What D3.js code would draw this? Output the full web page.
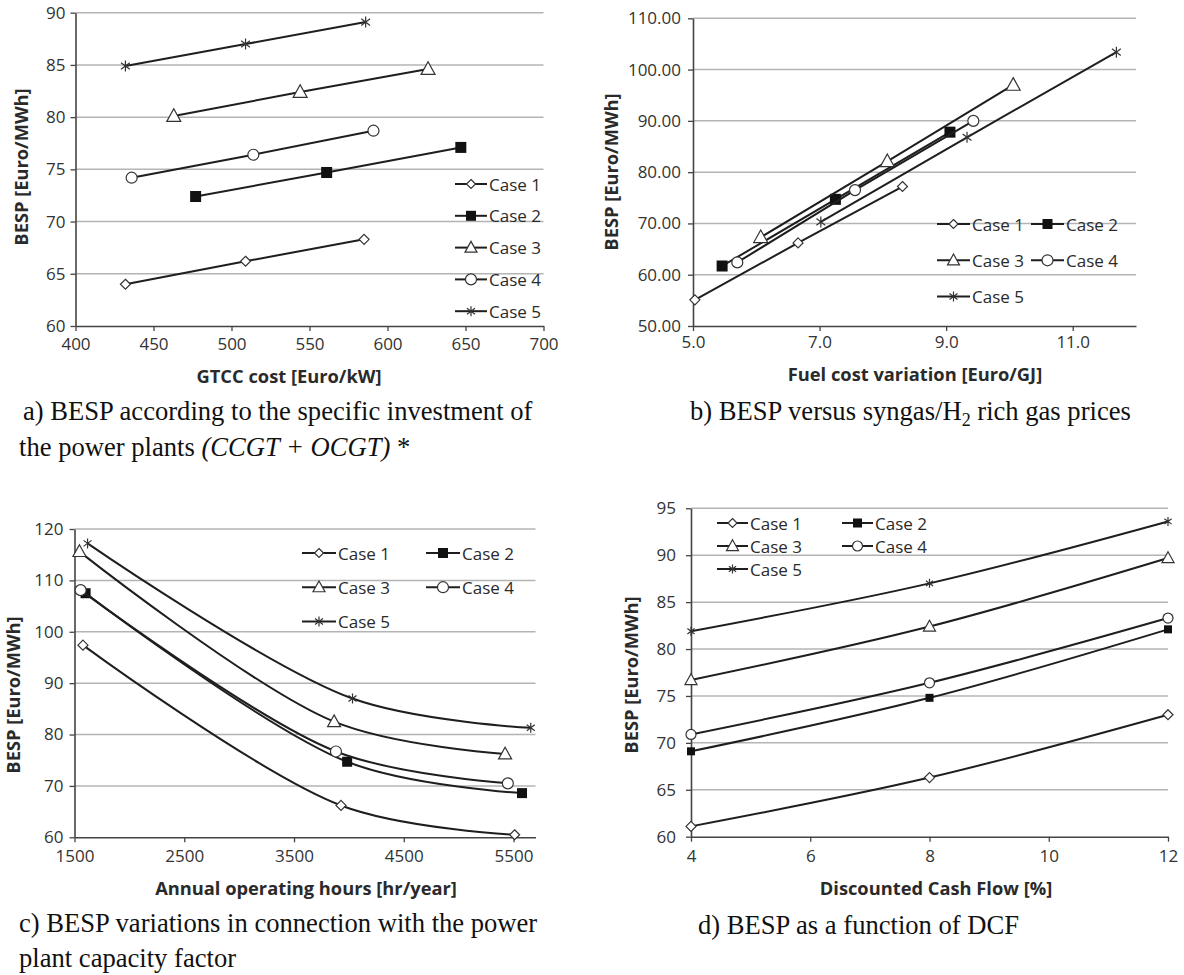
<!DOCTYPE html>
<html>
<head>
<meta charset="utf-8">
<script src="https://cdn.jsdelivr.net/npm/d3@7"></script>
<style>
  body { margin: 0; background: #fff; }
  svg { display: block; }
  .tick text { font-family: "Open Sans", sans-serif; font-size: 17px; fill: #333; }
  .axis-title { font-family: "Open Sans", sans-serif; font-weight: bold; font-size: 18.3px; fill: #2a2a2a; }
  .legend { font-family: "Open Sans", sans-serif; font-size: 17px; fill: #2a2a2a; }
  .caption { font-family: "Liberation Serif", "Times New Roman", serif; font-size: 26.6px; fill: #111; }
</style>
</head>
<body>
<svg id="chart" width="1184" height="975"></svg>
<script>
const caseNames = ["Case 1", "Case 2", "Case 3", "Case 4", "Case 5"]
const markers = ["diamond", "square", "triangle", "circle", "star"]

// a) GTCC cost [Euro/kW] vs BESP
const gtccCost = [[432, 509, 585], [477, 561, 647], [463, 544, 626], [436, 514, 591], [432, 509, 586]]
const gtccBesp = [[64.0, 66.2, 68.3], [72.4, 74.7, 77.1], [80.1, 82.4, 84.6], [74.2, 76.4, 78.7], [84.9, 87.0, 89.1]]

// b) fuel cost [Euro/GJ] vs BESP
const fuelCost = [[5.03, 6.66, 8.31], [5.46, 7.25, 9.06], [6.07, 8.07, 10.06], [5.70, 7.56, 9.43], [7.02, 9.33, 11.69]]
const fuelBesp = [[55.1, 66.2, 77.2], [61.7, 74.7, 87.8], [67.3, 82.1, 97.0], [62.4, 76.5, 90.0], [70.3, 86.8, 103.4]]

// c) annual operating hours vs BESP
const opHours = [[1577, 3928, 5510], [1601, 3984, 5577], [1545, 3865, 5423], [1556, 3882, 5448], [1619, 4033, 5657]]
const opBesp = [[97.4, 66.2, 60.5], [107.5, 74.7, 68.6], [115.6, 82.5, 76.2], [108.1, 76.7, 70.5], [117.2, 87.0, 81.3]]

// d) DCF [%] vs BESP
const dcfRate = [[4, 8, 12], [4, 8, 12], [4, 8, 12], [4, 8, 12], [4, 8, 12]]
const dcfBesp = [[61.1, 66.3, 73.0], [69.1, 74.8, 82.1], [76.7, 82.4, 89.7], [70.9, 76.4, 83.3], [81.9, 87.0, 93.6]]

const aXTicks = [400, 450, 500, 550, 600, 650, 700]
const aYTicks = [60, 65, 70, 75, 80, 85, 90]
const bXTicks = [5, 7, 9, 11]
const bYTicks = [50, 60, 70, 80, 90, 100, 110]
const cXTicks = [1500, 2500, 3500, 4500, 5500]
const cYTicks = [60, 70, 80, 90, 100, 110, 120]
const dXTicks = [4, 6, 8, 10, 12]
const dYTicks = [60, 65, 70, 75, 80, 85, 90, 95]

const svg = d3.select("#chart")
const ink = "#1e1e1e"

// draw one marker shape centred at 0,0
const drawMarker = (g, type, s) => {
    if (type == "diamond") {
        g.append("path").attr("d", `M0,${-s/2}L${s/2},0L0,${s/2}L${-s/2},0Z`)
            .attr("fill", "#fff").attr("stroke", "#333").attr("stroke-width", 1.2)
    } else if (type == "square") {
        g.append("rect").attr("x", -s/2).attr("y", -s/2).attr("width", s).attr("height", s)
            .attr("fill", "#111")
    } else if (type == "triangle") {
        let h = s * 0.9
        g.append("path").attr("d", `M0,${-h*0.58}L${s/2},${h*0.42}L${-s/2},${h*0.42}Z`)
            .attr("fill", "#fff").attr("stroke", "#333").attr("stroke-width", 1.2)
    } else if (type == "circle") {
        g.append("circle").attr("r", s/2)
            .attr("fill", "#fff").attr("stroke", "#333").attr("stroke-width", 1.2)
    } else {
        let r = s/2
        g.append("path").attr("d", `M0,${-r}V${r}M${-r*0.8},${-r*0.6}L${r*0.8},${r*0.6}M${-r*0.8},${r*0.6}L${r*0.8},${-r*0.6}`)
            .attr("stroke", "#333").attr("stroke-width", 1.2).attr("fill", "none")
    }
}

const drawPanel = (p) => {
    let xScale = d3.scaleLinear().domain(p.xDomain).range([p.left, p.right])
    let yScale = d3.scaleLinear().domain(p.yDomain).range([p.bottom, p.top])
    let g = svg.append("g")

    // gridlines
    g.selectAll(".grid").data(p.yTicks.slice(1)).enter().append("line")
        .attr("x1", p.left).attr("x2", p.right)
        .attr("y1", d => yScale(d)).attr("y2", d => yScale(d))
        .attr("stroke", "#b4b4b4").attr("stroke-width", 1.5)

    let xAxis = d3.axisBottom(xScale).tickValues(p.xTicks).tickFormat(p.xFormat)
        .tickSizeInner(5).tickSizeOuter(0).tickPadding(p.xPad)
    let yAxis = d3.axisLeft(yScale).tickValues(p.yTicks).tickFormat(p.yFormat)
        .tickSizeInner(5).tickSizeOuter(0).tickPadding(p.yPad)

    let gx = g.append("g").attr("transform", "translate(0," + p.bottom + ")").call(xAxis)
    let gy = g.append("g").attr("transform", "translate(" + p.left + ",0)").call(yAxis)
    gx.select(".domain").attr("stroke", "#444").attr("stroke-width", 1.6)
    gy.select(".domain").attr("stroke", "#444").attr("stroke-width", 1.6)
    gx.selectAll(".tick line").attr("stroke", "#444").attr("stroke-width", 1.3)
    gy.selectAll(".tick line").attr("stroke", "#444").attr("stroke-width", 1.3)

    // axis titles
    g.append("text").attr("class", "axis-title")
        .attr("x", p.xTitlePos[0]).attr("y", p.xTitlePos[1])
        .attr("text-anchor", "middle").attr("dominant-baseline", "central")
        .text(p.xTitle)
    g.append("text").attr("class", "axis-title")
        .attr("transform", `translate(${p.yTitlePos[0]},${p.yTitlePos[1]}) rotate(-90)`)
        .attr("text-anchor", "middle").attr("dominant-baseline", "central")
        .text(p.yTitle)

    // series
    let line = d3.line().x(d => xScale(d[0])).y(d => yScale(d[1])).curve(p.curve)
    caseNames.forEach((name, i) => {
        let pts = p.xs[i].map((x, j) => [x, p.ys[i][j]])
        g.append("path").datum(pts).attr("d", line)
            .attr("fill", "none").attr("stroke", ink).attr("stroke-width", 2)
        pts.forEach(pt => {
            let m = g.append("g").attr("transform", `translate(${xScale(pt[0])},${yScale(pt[1])})`)
            drawMarker(m, markers[i], p.sizes[i])
        })
    })

    // legend
    caseNames.forEach((name, i) => {
        let col = i % p.legendCols, row = Math.floor(i / p.legendCols)
        let lx = p.legendX + col * p.legendColW
        let ly = p.legendY + row * p.legendRowH
        let lg = g.append("g").attr("transform", `translate(${lx},${ly})`)
        lg.append("line").attr("x1", 0).attr("x2", p.legendLineW).attr("y1", 0).attr("y2", 0)
            .attr("stroke", ink).attr("stroke-width", 2)
        let m = lg.append("g").attr("transform", `translate(${p.legendLineW/2},0)`)
        drawMarker(m, markers[i], p.legendSizes[i])
        lg.append("text").attr("class", "legend").attr("x", p.legendLineW + 2).attr("y", 0)
            .attr("dominant-baseline", "central").text(name)
    })
}

drawPanel({
    xs: gtccCost, ys: gtccBesp, xDomain: [400, 700], yDomain: [60, 90],
    xTicks: aXTicks, yTicks: aYTicks, xFormat: d3.format("d"), yFormat: d3.format("d"),
    left: 75.5, right: 543.5, top: 12.7, bottom: 326, xPad: 7, yPad: 5,
    xTitle: "GTCC cost [Euro/kW]", xTitlePos: [289, 375],
    yTitle: "BESP [Euro/MWh]", yTitlePos: [20, 167],
    curve: d3.curveLinear, sizes: [10, 11, 14, 11, 11],
    legendX: 455, legendY: 184, legendCols: 1, legendColW: 0, legendRowH: 31.8, legendLineW: 32,
    legendSizes: [9, 10, 12, 11, 10]
})

drawPanel({
    xs: fuelCost, ys: fuelBesp, xDomain: [5, 12], yDomain: [50, 110],
    xTicks: bXTicks, yTicks: bYTicks, xFormat: d3.format(".1f"), yFormat: d3.format(".2f"),
    left: 693, right: 1136, top: 18.3, bottom: 326, xPad: 5, yPad: 7,
    xTitle: "Fuel cost variation [Euro/GJ]", xTitlePos: [915, 373],
    yTitle: "BESP [Euro/MWh]", yTitlePos: [610, 172],
    curve: d3.curveLinear, sizes: [10, 11, 14, 11, 11],
    legendX: 937, legendY: 224, legendCols: 2, legendColW: 94, legendRowH: 36.3, legendLineW: 33,
    legendSizes: [9, 10, 12, 11, 10]
})

drawPanel({
    xs: opHours, ys: opBesp, xDomain: [1500, 5700], yDomain: [60, 120],
    xTicks: cXTicks, yTicks: cYTicks, xFormat: d3.format("d"), yFormat: d3.format("d"),
    left: 74.5, right: 535.5, top: 529, bottom: 837.3, xPad: 8, yPad: 6,
    xTitle: "Annual operating hours [hr/year]", xTitlePos: [306, 887],
    yTitle: "BESP [Euro/MWh]", yTitlePos: [12, 695],
    curve: d3.curveCatmullRom.alpha(0.5), sizes: [10, 10, 13, 11, 10],
    legendX: 302, legendY: 553, legendCols: 2, legendColW: 124, legendRowH: 34.2, legendLineW: 34,
    legendSizes: [9, 10, 12, 11, 10]
})

drawPanel({
    xs: dcfRate, ys: dcfBesp, xDomain: [4, 12], yDomain: [60, 95],
    xTicks: dXTicks, yTicks: dYTicks, xFormat: d3.format("d"), yFormat: d3.format("d"),
    left: 691, right: 1168, top: 508.3, bottom: 836.7, xPad: 8, yPad: 10,
    xTitle: "Discounted Cash Flow [%]", xTitlePos: [936, 887],
    yTitle: "BESP [Euro/MWh]", yTitlePos: [630, 675],
    curve: d3.curveCatmullRom.alpha(0.5), sizes: [10, 8, 12, 10, 9],
    legendX: 717, legendY: 523, legendCols: 2, legendColW: 125, legendRowH: 23, legendLineW: 31,
    legendSizes: [9, 9, 12, 10, 9]
})

// captions
const cap = (x, y) => svg.append("text").attr("class", "caption").attr("x", x).attr("y", y)
cap(23, 420).text("a) BESP according to the specific investment of")
let a2 = cap(19, 456)
a2.append("tspan").text("the power plants ")
a2.append("tspan").attr("font-style", "italic").text("(CCGT + OCGT)")
a2.append("tspan").text(" *")
let b1 = cap(690, 420)
b1.append("tspan").text("b) BESP versus syngas/H")
b1.append("tspan").attr("font-size", "18px").attr("dy", 6).text("2")
b1.append("tspan").attr("dy", -6).text(" rich gas prices")
cap(19, 932).text("c) BESP variations in connection with the power")
cap(19, 967).text("plant capacity factor")
cap(698, 934).text("d) BESP as a function of DCF")
</script>
</body>
</html>
